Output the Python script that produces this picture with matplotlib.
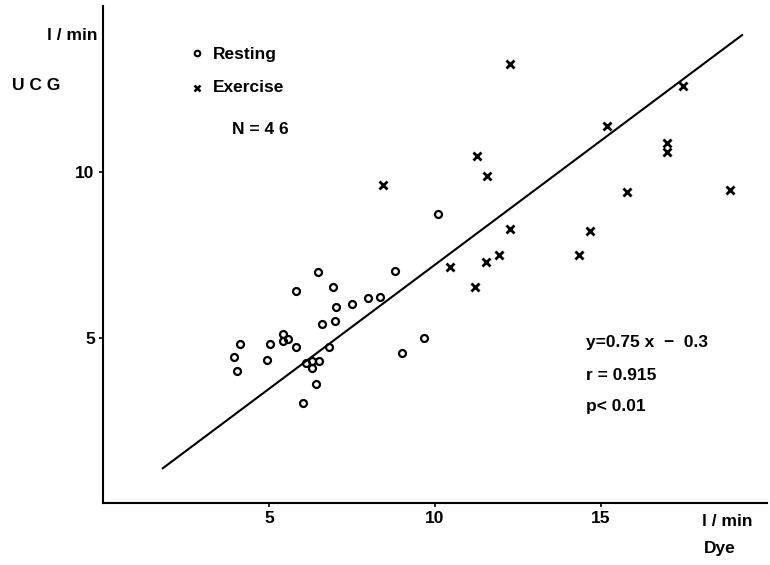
import numpy as np
import matplotlib.pyplot as plt

plt.rcParams["font.family"] = ["Liberation Sans", "DejaVu Sans"]

# cardiac output, Dye dilution (x) vs UCG (y), l/min
rest_dye = [6.48, 8.79, 5.80, 6.93, 7.03, 7.51, 7.99, 8.35, 6.60, 7.00,
            5.42, 5.41, 5.58, 5.02, 4.13, 5.80, 6.82, 9.00, 3.94, 4.93,
            6.11, 6.30, 6.50, 6.30, 4.03, 6.42, 6.02, 10.08, 9.67]
rest_ucg = [6.98, 7.02, 6.40, 6.52, 5.91, 6.01, 6.19, 6.23, 5.42, 5.49,
            5.11, 4.89, 4.95, 4.80, 4.81, 4.71, 4.71, 4.52, 4.40, 4.31,
            4.22, 4.30, 4.30, 4.08, 3.99, 3.60, 3.01, 8.72, 4.98]

ex_dye = [12.26, 17.48, 15.17, 16.98, 16.98, 11.26, 11.56, 15.77, 18.89,
          12.26, 14.67, 11.94, 14.35, 11.53, 10.45, 11.20, 8.44]
ex_ucg = [13.25, 12.60, 11.39, 10.87, 10.61, 10.48, 9.89, 9.40, 9.46,
          8.28, 8.23, 7.49, 7.49, 7.27, 7.12, 6.52, 9.61]

slope, intercept = 0.75, -0.3
r_value = 0.915
line_x = np.array([1.8, 19.25])

xticks = [5, 10, 15]
yticks = [5, 10]

fig = plt.figure(figsize=(7.7, 5.65), dpi=100)
ax = fig.add_axes([0.1338, 0.1097, 0.8623, 0.8788])

ax.plot(line_x, slope * line_x + intercept, color="black", lw=1.5)
ax.plot(rest_dye, rest_ucg, "o", mfc="none", mec="black", ms=5, mew=1.6)
ax.plot(ex_dye, ex_ucg, "x", color="black", ms=5.2, mew=2)

ax.set_xlim(0, 20)
ax.set_ylim(0, 15)
ax.set_xticks(xticks)
ax.set_yticks(yticks)
ax.spines["top"].set_visible(False)
ax.spines["right"].set_visible(False)
for s in ["left", "bottom"]:
    ax.spines[s].set_linewidth(1.5)
ax.tick_params(length=3, width=1.2, labelsize=12.5, pad=3)
for lab in ax.get_xticklabels() + ax.get_yticklabels():
    lab.set_fontweight("bold")

fw = "bold"
fs = 12.5
W, H = 770.0, 565.0
def ftext(px, py, s, **kw):
    fig.text(px / W, 1 - py / H, s, fontsize=fs, fontweight=fw, va="center", **kw)

ftext(72, 35, "l / min", ha="center")
ftext(36, 85, "U C G", ha="center")
ftext(727, 521, "l / min", ha="center")
ftext(720, 548, "Dye", ha="center")

# legend
ax.plot([2.83], [13.6], "o", mfc="none", mec="black", ms=4, mew=1.5, clip_on=False)
ax.plot([2.83], [12.55], "x", color="black", ms=4, mew=1.8, clip_on=False)
ftext(213, 55, "Resting", ha="left")
ftext(213, 88, "Exercise", ha="left")
ftext(232, 130, "N = 4 6", ha="left")

ftext(586, 343, "y=%.2f x  \u2212  %.1f" % (slope, -intercept), ha="left")
ftext(586, 375, "r = %.3f" % r_value, ha="left")
ftext(586, 407, "p< 0.01", ha="left")

fig.savefig("out.png", dpi=100)
